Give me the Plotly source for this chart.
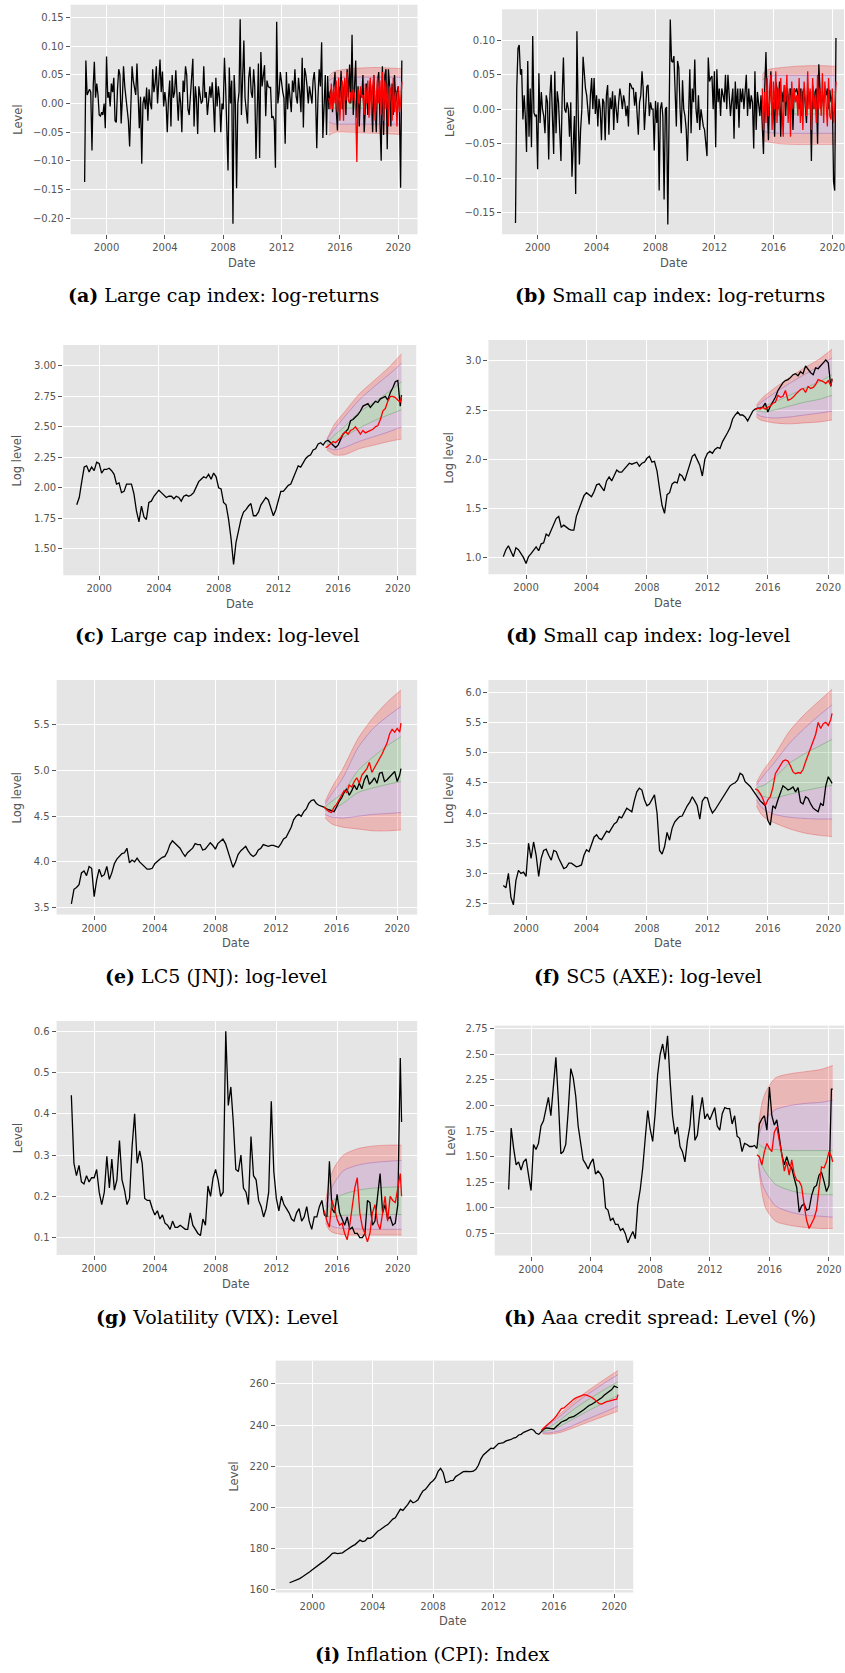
import numpy as np
import pandas as pd
import plotly.graph_objects as go

W, H = 845, 1673

# ------------------------------------------------------------------
# Data
# ------------------------------------------------------------------
# Monthly log-returns, Jul 1998 - Apr 2020 (one row per calendar year)
large_ret_rows = [
    [-0.137, 0.075, 0.015, 0.020, 0.025, 0.020],
    [-0.082, 0.030, 0.073, 0.010, 0.035, 0.015, -0.020, -0.022, -0.015, -0.020, 0.000, -0.043],
    [0.082, 0.010, 0.020, -0.005, 0.035, 0.020, 0.045, -0.030, -0.033, 0.025, 0.060, 0.050],
    [-0.035, 0.010, 0.065, 0.030, 0.010, -0.020, -0.030, -0.075, 0.020, 0.065, 0.040, 0.030],
    [0.015, 0.070, 0.020, -0.043, 0.012, -0.105, 0.000, 0.012, -0.010, 0.028, -0.030, 0.025],
    [0.000, -0.010, 0.060, 0.020, 0.035, 0.065, 0.000, 0.040, 0.077, 0.020, 0.056, -0.005],
    [0.020, 0.000, -0.050, 0.010, 0.040, -0.040, 0.050, 0.010, 0.020, 0.058, 0.010, -0.030],
    [0.020, 0.000, -0.050, 0.040, 0.020, 0.065, 0.050, -0.010, -0.020, 0.015, 0.030, 0.078],
    [-0.040, 0.030, 0.010, -0.053, 0.030, 0.010, 0.000, 0.005, 0.065, 0.010, 0.020, -0.020],
    [0.000, 0.030, 0.010, 0.037, 0.000, -0.050, 0.045, -0.005, 0.030, 0.010, -0.050, 0.000],
    [-0.010, 0.080, 0.030, -0.040, -0.117, 0.063, 0.000, 0.040, -0.210, 0.050, 0.000, -0.148],
    [0.000, 0.020, 0.147, -0.020, 0.040, 0.110, 0.010, -0.010, -0.035, 0.045, 0.064, 0.020],
    [0.010, 0.060, 0.030, -0.097, 0.020, 0.070, -0.095, 0.090, 0.030, 0.045, 0.067, -0.022],
    [0.040, 0.030, 0.028, 0.028, -0.025, -0.022, -0.030, -0.112, 0.143, 0.000, 0.020, 0.055],
    [0.030, 0.020, 0.010, -0.070, 0.055, -0.010, 0.035, 0.010, -0.015, 0.040, 0.020, 0.060],
    [0.012, 0.000, 0.045, 0.020, -0.015, 0.080, -0.042, 0.062, 0.050, 0.030, 0.000, 0.030],
    [0.010, 0.000, 0.040, 0.055, 0.020, -0.078, 0.010, 0.060, 0.030, 0.107, -0.060, 0.000],
    [0.050, -0.055, 0.048, -0.010, 0.020, 0.025, -0.015, 0.030, 0.055, -0.010, -0.047, 0.030],
    [0.010, 0.057, -0.010, 0.020, 0.040, -0.020, 0.060, 0.010, 0.068, 0.000, 0.120, -0.020],
    [0.030, 0.075, -0.025, 0.030, -0.040, 0.020, 0.010, 0.050, -0.050, 0.010, 0.035, -0.020],
    [0.020, 0.040, 0.010, -0.050, 0.050, 0.000, -0.050, 0.040, 0.055, -0.030, -0.100, 0.065],
    [-0.055, 0.050, 0.060, -0.080, 0.060, 0.030, -0.040, 0.035, -0.020, 0.050, 0.000, 0.020],
    [0.030, -0.010, -0.147, 0.075],
]
small_ret_rows = [
    [-0.165, 0.030, 0.088, 0.093, 0.050, 0.058],
    [-0.015, 0.020, -0.010, -0.062, 0.070, -0.040, 0.030, -0.055, 0.106, -0.005, -0.010, -0.008],
    [-0.087, 0.052, -0.020, 0.025, 0.000, -0.010, -0.035, 0.020, 0.010, -0.073, 0.020, 0.050],
    [-0.010, -0.065, 0.055, -0.035, 0.026, 0.010, -0.030, -0.075, 0.020, 0.075, 0.000, -0.005],
    [0.010, 0.000, -0.040, 0.010, -0.098, -0.050, -0.010, -0.123, 0.113, 0.000, -0.080, -0.030],
    [0.000, 0.076, 0.050, 0.030, 0.020, 0.000, -0.022, 0.020, 0.045, 0.000, 0.045, -0.007],
    [0.020, -0.025, 0.015, 0.000, -0.045, 0.015, 0.010, -0.045, 0.020, 0.035, -0.037, 0.017],
    [0.000, 0.026, -0.030, 0.020, 0.000, -0.020, 0.010, 0.030, 0.018, 0.000, 0.020, 0.010],
    [-0.010, 0.005, -0.025, 0.038, 0.035, 0.030, 0.030, 0.005, 0.025, 0.000, -0.037, 0.010],
    [0.020, 0.055, 0.030, -0.030, 0.000, 0.033, 0.035, -0.010, 0.010, 0.000, 0.000, -0.060],
    [0.012, -0.020, 0.010, -0.118, 0.000, 0.010, -0.010, -0.131, 0.000, 0.003, -0.167, 0.000],
    [0.130, 0.070, 0.068, 0.077, 0.020, -0.025, 0.070, 0.060, 0.000, -0.035, 0.042, 0.000],
    [-0.010, -0.030, -0.075, 0.020, 0.058, -0.035, 0.030, 0.010, 0.072, 0.000, -0.020, 0.020],
    [-0.030, 0.000, -0.015, -0.025, -0.030, -0.045, -0.068, 0.075, 0.040, 0.045, 0.048, 0.000],
    [0.055, -0.055, 0.058, 0.010, 0.030, -0.010, 0.030, 0.020, 0.010, 0.050, 0.000, 0.050],
    [0.020, -0.010, 0.010, 0.030, -0.043, 0.040, 0.000, 0.030, -0.027, 0.030, 0.010, 0.030],
    [0.000, 0.020, 0.050, -0.010, 0.030, 0.000, 0.020, 0.010, -0.057, 0.055, -0.030, 0.025],
    [0.010, -0.010, 0.020, -0.020, -0.065, 0.030, 0.083, 0.010, -0.045, 0.020, 0.055, -0.010],
    [0.010, -0.040, 0.040, 0.030, 0.000, 0.040, -0.040, 0.025, 0.010, 0.035, -0.010, 0.030],
    [0.020, 0.000, 0.030, 0.020, -0.030, 0.030, 0.025, 0.030, 0.020, 0.000, 0.030, -0.010],
    [0.025, 0.030, 0.010, -0.020, 0.030, 0.010, 0.025, -0.075, 0.035, 0.000, 0.025, 0.030],
    [-0.050, 0.065, 0.030, 0.000, 0.020, 0.010, 0.028, 0.020, 0.030, 0.000, 0.028, 0.010],
    [0.020, -0.105, -0.118, 0.103],
]

# Simulated monthly return paths, Apr 2015 - Apr 2020
large_ret_path = [
    0.010, -0.010, 0.035, -0.010, 0.030, 0.000, 0.040, -0.015, 0.045, -0.030,
    0.020, 0.040, -0.030, 0.045, 0.005, 0.055, 0.005, 0.000, 0.020, 0.005,
    0.025, 0.015, -0.010, -0.102, 0.025, 0.000, 0.030, 0.010, 0.015, -0.020,
    0.035, 0.000, 0.040, -0.025, 0.045, -0.020, 0.030, 0.050, -0.030, 0.010,
    0.045, 0.000, 0.040, -0.020, 0.055, -0.030, 0.040, -0.010, 0.035, -0.040,
    0.030, 0.020, -0.030, 0.045, -0.015, 0.020, -0.040, 0.030, -0.015, 0.000,
    0.038,
]
small_ret_path = [
    0.030, -0.030, 0.025, -0.020, 0.045, -0.010, 0.010, 0.050, -0.030, 0.040,
    0.000, 0.055, -0.020, 0.030, -0.010, 0.045, 0.000, -0.040, 0.035, 0.010,
    0.050, -0.020, 0.030, -0.040, 0.040, 0.000, 0.030, 0.010, 0.020, -0.010,
    0.045, -0.020, 0.030, -0.030, 0.040, 0.020, -0.010, 0.055, 0.000, 0.030,
    -0.030, 0.045, 0.000, 0.020, -0.020, 0.050, 0.000, 0.030, -0.010, 0.052,
    -0.020, 0.040, 0.000, -0.025, 0.045, -0.010, -0.015, 0.030, -0.020, 0.000,
    0.040,
]

# Bimonthly levels (Jan, Mar, May, Jul, Sep, Nov), Jul 1998 - Mar 2020, plus Apr 2020
large_log_rows = [
    [1.86, 1.92, 2.05],
    [2.17, 2.18, 2.13, 2.17, 2.14, 2.21],
    [2.20, 2.12, 2.15, 2.15, 2.16, 2.14],
    [2.11, 2.03, 2.04, 1.96, 1.97, 2.03],
    [2.03, 2.03, 1.95, 1.81, 1.72, 1.85],
    [1.76, 1.74, 1.88, 1.89, 1.93, 1.96],
    [1.98, 1.96, 1.94, 1.92, 1.93, 1.93],
    [1.91, 1.93, 1.92, 1.89, 1.93, 1.94],
    [1.93, 1.94, 1.96, 2.01, 2.05, 2.07],
    [2.09, 2.08, 2.11, 2.07, 2.12, 2.09],
    [2.00, 1.99, 1.88, 1.86, 1.74, 1.58],
    [1.37, 1.55, 1.66, 1.74, 1.80, 1.82],
    [1.85, 1.87, 1.77, 1.77, 1.80, 1.86],
    [1.89, 1.92, 1.90, 1.84, 1.77, 1.82],
    [1.89, 1.97, 1.97, 2.00, 2.02, 2.03],
    [2.08, 2.14, 2.18, 2.17, 2.21, 2.24],
    [2.26, 2.27, 2.31, 2.32, 2.36, 2.37],
    [2.35, 2.38, 2.39, 2.37, 2.35, 2.33],
    [2.35, 2.40, 2.44, 2.46, 2.48, 2.55],
    [2.56, 2.58, 2.60, 2.63, 2.67, 2.68],
    [2.69, 2.66, 2.69, 2.71, 2.70, 2.73],
    [2.74, 2.75, 2.72, 2.78, 2.82, 2.87],
    [2.88, 2.67, 2.76],
]
small_log_rows = [
    [1.01, 1.08, 1.12],
    [1.06, 1.01, 1.10, 1.08, 1.04, 1.00],
    [0.94, 1.01, 1.04, 1.08, 1.11, 1.07],
    [1.14, 1.15, 1.24, 1.22, 1.28, 1.33],
    [1.40, 1.42, 1.31, 1.33, 1.31, 1.29],
    [1.28, 1.28, 1.42, 1.49, 1.57, 1.63],
    [1.66, 1.64, 1.62, 1.67, 1.74, 1.75],
    [1.72, 1.68, 1.78, 1.82, 1.78, 1.84],
    [1.89, 1.87, 1.87, 1.90, 1.93, 1.96],
    [1.95, 1.96, 1.97, 1.93, 1.96, 1.97],
    [2.01, 2.03, 1.97, 1.98, 1.88, 1.70],
    [1.53, 1.45, 1.64, 1.66, 1.75, 1.77],
    [1.76, 1.85, 1.83, 1.78, 1.87, 1.94],
    [2.03, 2.05, 2.00, 1.94, 1.83, 2.00],
    [2.06, 2.08, 2.06, 2.10, 2.12, 2.11],
    [2.18, 2.22, 2.27, 2.32, 2.41, 2.45],
    [2.48, 2.45, 2.45, 2.43, 2.39, 2.44],
    [2.49, 2.51, 2.52, 2.52, 2.53, 2.57],
    [2.48, 2.54, 2.59, 2.63, 2.70, 2.74],
    [2.78, 2.80, 2.81, 2.83, 2.86, 2.87],
    [2.85, 2.89, 2.87, 2.95, 2.91, 2.88],
    [2.86, 2.93, 2.92, 2.95, 2.97, 3.01],
    [2.98, 2.74, 2.82],
]
lc5_log_rows = [
    [3.54, 3.70, 3.72],
    [3.75, 3.88, 3.90, 3.85, 3.95, 3.93],
    [3.62, 3.80, 3.92, 3.84, 3.86, 3.95],
    [3.81, 3.88, 3.98, 4.03, 4.06, 4.09],
    [4.10, 4.15, 3.99, 4.02, 4.00, 4.04],
    [4.00, 3.97, 3.94, 3.92, 3.92, 3.93],
    [3.98, 4.01, 4.03, 4.05, 4.06, 4.11],
    [4.19, 4.23, 4.20, 4.17, 4.15, 4.10],
    [4.06, 4.10, 4.12, 4.15, 4.20, 4.19],
    [4.19, 4.13, 4.14, 4.18, 4.21, 4.18],
    [4.14, 4.20, 4.22, 4.25, 4.20, 4.12],
    [4.03, 3.94, 4.00, 4.08, 4.12, 4.15],
    [4.17, 4.12, 4.08, 4.06, 4.08, 4.13],
    [4.15, 4.19, 4.18, 4.17, 4.18, 4.18],
    [4.17, 4.16, 4.20, 4.25, 4.27, 4.33],
    [4.38, 4.46, 4.50, 4.52, 4.50, 4.55],
    [4.58, 4.64, 4.67, 4.68, 4.64, 4.62],
    [4.61, 4.60, 4.58, 4.57, 4.56, 4.55],
    [4.60, 4.66, 4.70, 4.76, 4.80, 4.73],
    [4.78, 4.84, 4.79, 4.86, 4.80, 4.90],
    [4.95, 4.85, 4.88, 4.92, 4.86, 4.97],
    [4.98, 4.88, 4.90, 4.93, 4.95, 4.99],
    [4.88, 4.95, 5.02],
]
sc5_log_rows = [
    [2.80, 2.76, 3.00],
    [2.60, 2.48, 2.88, 3.05, 3.00, 3.02],
    [2.95, 3.50, 3.25, 3.52, 3.30, 2.95],
    [3.25, 3.38, 3.40, 3.30, 3.22, 3.38],
    [3.36, 3.25, 3.15, 3.08, 3.10, 3.17],
    [3.17, 3.14, 3.11, 3.12, 3.14, 3.30],
    [3.39, 3.36, 3.50, 3.60, 3.64, 3.58],
    [3.56, 3.62, 3.70, 3.68, 3.75, 3.82],
    [3.85, 3.94, 3.92, 4.00, 4.08, 4.05],
    [4.02, 4.20, 4.35, 4.41, 4.38, 4.22],
    [4.12, 4.15, 4.22, 4.30, 4.00, 3.38],
    [3.32, 3.44, 3.68, 3.55, 3.75, 3.85],
    [3.90, 3.94, 3.95, 4.05, 4.12, 4.18],
    [4.27, 4.20, 4.12, 3.90, 4.20, 4.26],
    [4.25, 4.10, 4.00, 4.05, 4.12, 4.20],
    [4.25, 4.32, 4.38, 4.45, 4.48, 4.50],
    [4.55, 4.66, 4.63, 4.52, 4.48, 4.44],
    [4.38, 4.32, 4.27, 4.20, 4.16, 4.12],
    [3.88, 3.80, 4.12, 4.08, 4.22, 4.33],
    [4.45, 4.42, 4.38, 4.40, 4.43, 4.35],
    [4.42, 4.18, 4.15, 4.27, 4.24, 4.15],
    [4.08, 4.05, 4.02, 4.16, 4.12, 4.45],
    [4.60, 4.53, 4.49],
]
vix_rows = [
    [0.445, 0.280, 0.250],
    [0.275, 0.235, 0.230, 0.250, 0.235, 0.245],
    [0.245, 0.265, 0.210, 0.180, 0.210, 0.297],
    [0.220, 0.290, 0.215, 0.240, 0.335, 0.240],
    [0.215, 0.180, 0.195, 0.320, 0.400, 0.280],
    [0.310, 0.280, 0.195, 0.190, 0.190, 0.170],
    [0.155, 0.165, 0.145, 0.155, 0.135, 0.130],
    [0.120, 0.140, 0.125, 0.125, 0.130, 0.125],
    [0.120, 0.120, 0.160, 0.130, 0.120, 0.110],
    [0.105, 0.145, 0.130, 0.225, 0.200, 0.245],
    [0.265, 0.240, 0.200, 0.210, 0.600, 0.420],
    [0.465, 0.380, 0.265, 0.260, 0.300, 0.220],
    [0.210, 0.180, 0.345, 0.250, 0.240, 0.190],
    [0.175, 0.150, 0.170, 0.210, 0.430, 0.260],
    [0.195, 0.165, 0.200, 0.180, 0.170, 0.160],
    [0.145, 0.140, 0.160, 0.170, 0.140, 0.150],
    [0.175, 0.140, 0.120, 0.150, 0.150, 0.175],
    [0.190, 0.155, 0.150, 0.285, 0.170, 0.160],
    [0.205, 0.160, 0.145, 0.130, 0.150, 0.120],
    [0.125, 0.110, 0.110, 0.100, 0.100, 0.110],
    [0.190, 0.185, 0.130, 0.140, 0.200, 0.255],
    [0.160, 0.180, 0.145, 0.150, 0.130, 0.135],
    [0.180, 0.535, 0.380],
]
aaa_rows = [
    [1.18, 1.78, 1.58],
    [1.42, 1.45, 1.37, 1.45, 1.48, 1.32],
    [1.17, 1.62, 1.57, 1.63, 1.80, 1.85],
    [1.98, 2.08, 1.90, 2.20, 2.47, 2.05],
    [1.53, 1.55, 1.62, 1.95, 2.36, 2.27],
    [2.09, 1.80, 1.62, 1.47, 1.43, 1.38],
    [1.44, 1.48, 1.33, 1.36, 1.33, 1.28],
    [1.00, 0.98, 0.88, 0.90, 0.84, 0.84],
    [0.78, 0.80, 0.75, 0.66, 0.72, 0.77],
    [0.70, 1.03, 1.18, 1.39, 1.68, 1.95],
    [1.77, 1.65, 1.92, 2.30, 2.50, 2.60],
    [2.45, 2.68, 2.25, 1.90, 1.72, 1.79],
    [1.60, 1.55, 1.45, 1.66, 1.80, 2.10],
    [1.66, 1.71, 1.93, 2.08, 1.87, 1.92],
    [1.86, 1.93, 1.98, 1.80, 1.76, 1.92],
    [1.98, 1.97, 1.97, 1.82, 1.90, 1.70],
    [1.68, 1.55, 1.63, 1.62, 1.60, 1.60],
    [1.61, 1.58, 1.82, 1.87, 1.90, 1.76],
    [2.18, 1.90, 1.81, 1.86, 1.68, 1.52],
    [1.42, 1.50, 1.42, 1.39, 1.29, 1.20],
    [0.96, 1.02, 1.04, 0.98, 0.99, 1.12],
    [1.20, 1.22, 1.32, 1.35, 1.26, 1.16],
    [1.22, 2.16, 2.16],
]
cpi_rows = [
    [163.5, 164.0, 164.3],
    [164.8, 165.5, 166.3, 167.0, 168.0, 168.8],
    [169.8, 170.8, 171.5, 172.6, 173.5, 174.3],
    [175.2, 176.5, 177.8, 178.0, 177.6, 177.7],
    [178.0, 178.9, 179.8, 180.6, 181.4, 182.0],
    [183.0, 184.2, 183.5, 183.8, 185.2, 185.0],
    [185.8, 187.0, 188.5, 189.2, 190.3, 191.0],
    [191.7, 193.0, 194.4, 195.0, 197.5, 199.2],
    [198.6, 199.8, 201.5, 203.5, 202.3, 202.8],
    [203.7, 206.0, 208.0, 208.8, 210.5, 212.0],
    [213.0, 214.5, 217.5, 219.0, 217.0, 212.1],
    [212.4, 213.0, 213.2, 215.0, 215.8, 216.5],
    [217.4, 217.5, 217.3, 217.4, 217.6, 218.5],
    [220.5, 223.5, 225.5, 226.5, 227.5, 228.8],
    [228.6, 229.8, 231.0, 231.2, 231.5, 232.3],
    [232.5, 233.0, 233.7, 234.0, 235.2, 235.5],
    [236.5, 237.0, 237.8, 238.0, 237.5, 236.0],
    [235.5, 237.0, 238.0, 238.6, 238.4, 238.2],
    [238.1, 239.3, 240.5, 241.5, 242.0, 242.5],
    [243.5, 243.8, 244.2, 245.0, 245.8, 246.5],
    [247.6, 248.5, 249.5, 250.0, 250.8, 251.5],
    [252.4, 253.2, 254.5, 255.5, 256.3, 257.2],
    [258.9, 258.6, 258.1],
]

# Simulated bimonthly paths, Mar 2015 - Mar 2020, plus Apr 2020
large_log_path = [[2.33, 2.34, 2.36, 2.38, 2.37],
                  [2.39, 2.41, 2.44, 2.46, 2.44, 2.47],
                  [2.48, 2.50, 2.47, 2.44, 2.47, 2.45],
                  [2.46, 2.47, 2.48, 2.50, 2.51, 2.56],
                  [2.63, 2.65, 2.71, 2.75, 2.75, 2.74],
                  [2.72, 2.70, 2.75]]
small_log_path = [[2.50, 2.52, 2.51, 2.53, 2.51],
                  [2.53, 2.54, 2.57, 2.58, 2.65, 2.63],
                  [2.64, 2.70, 2.60, 2.61, 2.63, 2.66],
                  [2.69, 2.71, 2.72, 2.68, 2.74, 2.72],
                  [2.73, 2.76, 2.81, 2.80, 2.79, 2.77],
                  [2.80, 2.75, 2.81]]
lc5_log_path = [[4.60, 4.58, 4.55, 4.54, 4.60],
                [4.63, 4.68, 4.72, 4.78, 4.76, 4.84],
                [4.82, 4.88, 4.92, 4.86, 4.95, 4.98],
                [5.02, 5.09, 4.98, 5.03, 5.08, 5.12],
                [5.18, 5.24, 5.30, 5.40, 5.45, 5.42],
                [5.46, 5.42, 5.52]]
sc5_log_path = [[4.40, 4.38, 4.32, 4.24, 4.12],
                [4.22, 4.27, 4.42, 4.65, 4.72, 4.80],
                [4.86, 4.88, 4.86, 4.78, 4.68, 4.65],
                [4.67, 4.66, 4.72, 4.85, 4.97, 5.08],
                [5.18, 5.30, 5.50, 5.40, 5.48, 5.50],
                [5.45, 5.55, 5.65]]
vix_path = [[0.165, 0.140, 0.125, 0.190, 0.170],
            [0.145, 0.130, 0.135, 0.110, 0.095, 0.130],
            [0.170, 0.220, 0.245, 0.160, 0.125, 0.110],
            [0.090, 0.110, 0.160, 0.180, 0.135, 0.120],
            [0.160, 0.200, 0.140, 0.200, 0.190, 0.185],
            [0.220, 0.255, 0.200]]
aaa_path = [[1.52, 1.50, 1.42, 1.55, 1.63],
            [1.58, 1.55, 1.74, 1.79, 1.66, 1.52],
            [1.36, 1.45, 1.32, 1.47, 1.33, 1.27],
            [1.26, 1.21, 1.03, 0.88, 0.80, 0.85],
            [0.90, 0.98, 1.22, 1.40, 1.39, 1.45],
            [1.55, 1.50, 1.45]]
cpi_path = [[237.4, 238.5, 239.6, 240.8, 241.8],
            [243.0, 244.5, 246.5, 248.0, 248.3, 249.5],
            [250.5, 251.8, 252.6, 253.3, 253.8, 254.3],
            [254.8, 254.5, 254.1, 253.5, 252.6, 251.5],
            [250.4, 250.2, 250.8, 251.4, 251.6, 251.8],
            [252.3, 252.6, 254.8]]

# Forecast quantile bands at these dates:
# rows = outer low, middle low, inner low, inner high, middle high, outer high
band_dates = ["2015-04-01", "2015-07-01", "2015-10-01", "2016-06-01",
              "2017-06-01", "2018-06-01", "2019-06-01", "2020-04-01"]
large_ret_bands = [
    [-0.056, -0.052, -0.050, -0.050, -0.051, -0.052, -0.053, -0.054],
    [-0.032, -0.035, -0.036, -0.036, -0.036, -0.036, -0.036, -0.036],
    [-0.006, -0.008, -0.008, -0.008, -0.008, -0.008, -0.008, -0.008],
    [0.018, 0.020, 0.020, 0.021, 0.021, 0.021, 0.021, 0.021],
    [0.040, 0.044, 0.045, 0.046, 0.046, 0.046, 0.046, 0.046],
    [0.048, 0.054, 0.057, 0.060, 0.062, 0.063, 0.062, 0.061],
]
small_ret_bands = [
    [-0.045, -0.047, -0.048, -0.050, -0.051, -0.051, -0.051, -0.051],
    [-0.030, -0.033, -0.034, -0.035, -0.035, -0.035, -0.035, -0.035],
    [-0.006, -0.007, -0.007, -0.007, -0.007, -0.007, -0.007, -0.007],
    [0.024, 0.025, 0.025, 0.025, 0.025, 0.025, 0.025, 0.025],
    [0.042, 0.046, 0.048, 0.049, 0.049, 0.049, 0.049, 0.049],
    [0.050, 0.056, 0.058, 0.060, 0.062, 0.063, 0.063, 0.062],
]
large_log_bands = [
    [2.31, 2.29, 2.27, 2.27, 2.32, 2.35, 2.38, 2.40],
    [2.33, 2.32, 2.31, 2.33, 2.38, 2.42, 2.46, 2.50],
    [2.35, 2.36, 2.37, 2.42, 2.49, 2.55, 2.60, 2.64],
    [2.37, 2.40, 2.43, 2.50, 2.62, 2.70, 2.79, 2.87],
    [2.39, 2.44, 2.48, 2.58, 2.72, 2.83, 2.93, 3.02],
    [2.40, 2.46, 2.52, 2.62, 2.77, 2.88, 2.99, 3.10],
]
small_log_bands = [
    [2.43, 2.40, 2.39, 2.37, 2.36, 2.37, 2.38, 2.40],
    [2.46, 2.44, 2.43, 2.42, 2.43, 2.45, 2.47, 2.49],
    [2.49, 2.49, 2.48, 2.50, 2.54, 2.58, 2.61, 2.65],
    [2.51, 2.53, 2.54, 2.58, 2.65, 2.72, 2.79, 2.86],
    [2.53, 2.57, 2.60, 2.67, 2.77, 2.86, 2.95, 3.03],
    [2.55, 2.60, 2.64, 2.72, 2.83, 2.93, 3.02, 3.12],
]
lc5_log_bands = [
    [4.48, 4.44, 4.41, 4.38, 4.36, 4.34, 4.34, 4.35],
    [4.52, 4.50, 4.49, 4.48, 4.50, 4.52, 4.53, 4.54],
    [4.56, 4.57, 4.58, 4.64, 4.76, 4.81, 4.85, 4.88],
    [4.60, 4.64, 4.67, 4.76, 5.00, 5.15, 5.28, 5.37],
    [4.63, 4.70, 4.76, 4.92, 5.25, 5.46, 5.60, 5.70],
    [4.66, 4.75, 4.83, 5.02, 5.35, 5.58, 5.76, 5.88],
]
sc5_log_bands = [
    [4.12, 4.00, 3.93, 3.84, 3.74, 3.67, 3.63, 3.61],
    [4.22, 4.12, 4.06, 3.98, 3.93, 3.91, 3.90, 3.90],
    [4.35, 4.30, 4.27, 4.25, 4.31, 4.37, 4.42, 4.46],
    [4.42, 4.44, 4.46, 4.58, 4.82, 4.98, 5.11, 5.22],
    [4.46, 4.55, 4.63, 4.83, 5.15, 5.40, 5.62, 5.79],
    [4.50, 4.62, 4.72, 4.95, 5.35, 5.63, 5.86, 6.05],
]
vix_bands = [
    [0.135, 0.118, 0.112, 0.107, 0.106, 0.106, 0.106, 0.106],
    [0.145, 0.132, 0.126, 0.122, 0.121, 0.120, 0.120, 0.120],
    [0.155, 0.150, 0.151, 0.154, 0.155, 0.156, 0.156, 0.156],
    [0.165, 0.178, 0.190, 0.205, 0.215, 0.220, 0.222, 0.223],
    [0.175, 0.205, 0.228, 0.262, 0.276, 0.282, 0.285, 0.287],
    [0.190, 0.235, 0.265, 0.300, 0.316, 0.322, 0.324, 0.324],
]
aaa_bands = [
    [1.43, 1.15, 1.00, 0.87, 0.83, 0.81, 0.80, 0.80],
    [1.47, 1.25, 1.16, 1.02, 0.96, 0.93, 0.92, 0.91],
    [1.52, 1.42, 1.35, 1.23, 1.17, 1.14, 1.13, 1.13],
    [1.63, 1.60, 1.58, 1.57, 1.56, 1.56, 1.56, 1.56],
    [1.68, 1.80, 1.87, 1.96, 2.00, 2.02, 2.03, 2.05],
    [1.78, 2.02, 2.13, 2.27, 2.31, 2.33, 2.35, 2.39],
]
cpi_bands = [
    [235.8, 235.6, 235.6, 236.4, 239.0, 241.8, 244.5, 246.8],
    [236.2, 236.2, 236.3, 237.3, 240.3, 243.5, 246.5, 249.2],
    [236.8, 237.2, 237.6, 239.5, 243.5, 247.5, 251.2, 254.5],
    [237.5, 238.4, 239.3, 242.5, 248.2, 253.0, 257.5, 261.0],
    [238.0, 239.3, 240.6, 244.3, 250.5, 255.8, 260.7, 264.5],
    [238.5, 240.0, 241.5, 245.5, 252.0, 257.5, 262.5, 266.5],
]

captions = [
    "(a)|Large cap index: log-returns",
    "(b)|Small cap index: log-returns",
    "(c)|Large cap index: log-level",
    "(d)|Small cap index: log-level",
    "(e)|LC5 (JNJ): log-level",
    "(f)|SC5 (AXE): log-level",
    "(g)|Volatility (VIX): Level",
    "(h)|Aaa credit spread: Level (%)",
    "(i)|Inflation (CPI): Index",
]
y_titles = ["Level", "Level", "Log level", "Log level", "Log level", "Log level",
            "Level", "Level", "Level"]


# ------------------------------------------------------------------
# Helpers
# ------------------------------------------------------------------
def join_rows(name, rows, sizes):
    assert len(rows) == len(sizes), f"{name}: {len(rows)} rows"
    for i, (r, n) in enumerate(zip(rows, sizes)):
        assert len(r) == n, f"{name} row {i}: {len(r)} != {n}"
    return [v for r in rows for v in r]


MONTH_SIZES = [6] + [12] * 21 + [4]
BIM_SIZES = [3] + [6] * 21 + [3]
PATH_SIZES = [5] + [6] * 4 + [3]

month_dates = pd.date_range("1998-07-01", periods=262, freq="MS")
path_month_dates = pd.date_range("2015-04-01", periods=61, freq="MS")
bim_dates = list(pd.date_range("1998-07-01", "2020-03-01", freq="2MS")) + [pd.Timestamp("2020-04-01")]
path_bim_dates = list(pd.date_range("2015-03-01", "2020-03-01", freq="2MS")) + [pd.Timestamp("2020-04-01")]
assert len(large_ret_path) == 61 and len(small_ret_path) == 61


def dec_year(y):
    yr = int(np.floor(y))
    a = pd.Timestamp(year=yr, month=1, day=1)
    b = pd.Timestamp(year=yr + 1, month=1, day=1)
    return (a + (b - a) * (y - yr)).strftime("%Y-%m-%d %H:%M:%S")


series = [
    (month_dates, join_rows("large_ret", large_ret_rows, MONTH_SIZES),
     path_month_dates, large_ret_path, large_ret_bands),
    (month_dates, join_rows("small_ret", small_ret_rows, MONTH_SIZES),
     path_month_dates, small_ret_path, small_ret_bands),
    (bim_dates, join_rows("large_log", large_log_rows, BIM_SIZES),
     path_bim_dates, join_rows("large_log_path", large_log_path, PATH_SIZES), large_log_bands),
    (bim_dates, join_rows("small_log", small_log_rows, BIM_SIZES),
     path_bim_dates, join_rows("small_log_path", small_log_path, PATH_SIZES), small_log_bands),
    (bim_dates, join_rows("lc5", lc5_log_rows, BIM_SIZES),
     path_bim_dates, join_rows("lc5_path", lc5_log_path, PATH_SIZES), lc5_log_bands),
    (bim_dates, join_rows("sc5", sc5_log_rows, BIM_SIZES),
     path_bim_dates, join_rows("sc5_path", sc5_log_path, PATH_SIZES), sc5_log_bands),
    (bim_dates, join_rows("vix", vix_rows, BIM_SIZES),
     path_bim_dates, join_rows("vix_path", vix_path, PATH_SIZES), vix_bands),
    (bim_dates, join_rows("aaa", aaa_rows, BIM_SIZES),
     path_bim_dates, join_rows("aaa_path", aaa_path, PATH_SIZES), aaa_bands),
    (bim_dates, join_rows("cpi", cpi_rows, BIM_SIZES),
     path_bim_dates, join_rows("cpi_path", cpi_path, PATH_SIZES), cpi_bands),
]

# ------------------------------------------------------------------
# Panel geometry (pixels): plot box, pixel of the 2000/2020 ticks,
# two reference y ticks (value, pixel), tick step and format,
# plus positions of the y title, "Date" label and caption.
# ------------------------------------------------------------------
geometry = [
    dict(box=(70.7, 2.7, 418, 233), t00=106.7, t20=398.7, yref=(0.15, 15.7, -0.20, 216.7),
         dtick=0.05, fmt=".2f", ytx=18.3, date=(242.7, 261.7), cap=(224, 294)),
    dict(box=(502.7, 7.3, 852, 233), t00=538.3, t20=833.3, yref=(0.10, 38.3, -0.15, 211.3),
         dtick=0.05, fmt=".2f", ytx=450.7, date=(675, 261.7), cap=(671, 294)),
    dict(box=(63.3, 344, 416.7, 575), t00=99.3, t20=398.3, yref=(3.0, 365, 1.5, 548.3),
         dtick=0.25, fmt=".2f", ytx=17.3, date=(240, 604), cap=(217.5, 635)),
    dict(box=(489, 339, 860, 574), t00=526.7, t20=829.3, yref=(3.0, 360, 1.0, 557.3),
         dtick=0.5, fmt=".1f", ytx=450, date=(668.3, 603.3), cap=(649, 635)),
    dict(box=(56.7, 680, 417.7, 915.3), t00=94.3, t20=397.7, yref=(5.5, 725, 3.5, 908.3),
         dtick=0.5, fmt=".1f", ytx=17.3, date=(236.7, 944.3), cap=(216.7, 976.7)),
    dict(box=(489, 680, 860, 915.7), t00=526.7, t20=829.3, yref=(6.0, 692.3, 2.5, 904.3),
         dtick=0.5, fmt=".1f", ytx=450, date=(668.3, 944.3), cap=(649, 976.7)),
    dict(box=(56.7, 1022, 417.7, 1256.7), t00=94.3, t20=398.3, yref=(0.6, 1032.3, 0.1, 1239.3),
         dtick=0.1, fmt=".1f", ytx=18.3, date=(236.7, 1285.7), cap=(217, 1318.7)),
    dict(box=(495.3, 1026.7, 860, 1257.3), t00=531.7, t20=830, yref=(2.75, 1029.7, 0.75, 1235.3),
         dtick=0.25, fmt=".2f", ytx=450.7, date=(671.7, 1285.7), cap=(661, 1318.7)),
    dict(box=(276, 1362.7, 634, 1595.3), t00=312.7, t20=615, yref=(260, 1386, 160, 1592.7),
         dtick=20, fmt="d", ytx=234.3, date=(454, 1624.3), cap=(433, 1657)),
]

GRAY = "#555555"
TICK_FONT = dict(family="DejaVu Sans", size=10, color=GRAY)
LABEL_FONT = dict(family="DejaVu Sans", size=11.5, color=GRAY)
CAP_FONT = dict(family="DejaVu Serif", size=19, color="black")

FILL_RED = "rgba(255,0,0,0.20)"
FILL_PUR = "rgba(140,20,150,0.17)"
FILL_GRN = "rgba(40,140,40,0.20)"
EDGE_RED = "rgba(225,60,60,0.35)"
EDGE_PUR = "rgba(140,60,170,0.35)"
EDGE_GRN = "rgba(60,140,60,0.35)"
band_style = [  # (edge colour, fill colour to the previous boundary)
    (EDGE_RED, None), (EDGE_PUR, FILL_RED), (EDGE_GRN, FILL_PUR),
    (EDGE_GRN, FILL_GRN), (EDGE_PUR, FILL_PUR), (EDGE_RED, FILL_RED),
]

tick_years = list(range(2000, 2021, 4))

fig = go.Figure()
annotations = []

for k, ((bx, by, px, py, bands), g, cap, ytitle) in enumerate(
        zip(series, geometry, captions, y_titles), start=1):
    sfx = "" if k == 1 else str(k)
    xa, ya = "x" + sfx, "y" + sfx

    # forecast bands
    for (edge, fill), q in zip(band_style, bands):
        fig.add_trace(go.Scatter(
            x=band_dates, y=q, mode="lines", xaxis=xa, yaxis=ya,
            line=dict(color=edge, width=1, shape="spline", smoothing=0.7),
            fill="tonexty" if fill else None, fillcolor=fill,
            hoverinfo="skip", showlegend=False))
    # observed series
    fig.add_trace(go.Scatter(x=bx, y=by, mode="lines", xaxis=xa, yaxis=ya,
                             line=dict(color="black", width=1.3),
                             hoverinfo="skip", showlegend=False))
    # simulated path
    fig.add_trace(go.Scatter(x=px, y=py, mode="lines", xaxis=xa, yaxis=ya,
                             line=dict(color="red", width=1.3),
                             hoverinfo="skip", showlegend=False))

    x0, y0, x1, y1 = g["box"]
    x1c = min(x1, W)
    ppy = (g["t20"] - g["t00"]) / 20.0
    left = 2000 + (x0 - g["t00"]) / ppy
    right = 2000 + (x1c - g["t00"]) / ppy
    va, pa, vb, pb = g["yref"]
    ppu = (pb - pa) / (va - vb)
    top = va + (pa - y0) / ppu
    bot = vb - (y1 - pb) / ppu

    common = dict(showgrid=True, gridcolor="white", gridwidth=1, zeroline=False,
                  showline=False, ticks="outside", ticklen=4, tickwidth=1,
                  tickcolor=GRAY, tickfont=TICK_FONT, ticklabeloverflow="allow")
    fig.layout["xaxis" + sfx] = dict(
        domain=[x0 / W, x1c / W], anchor=ya, type="date",
        range=[dec_year(left), dec_year(right)],
        tickvals=[f"{y}-01-01" for y in tick_years],
        ticktext=[str(y) for y in tick_years], **common)
    fig.layout["yaxis" + sfx] = dict(
        domain=[1 - y1 / H, 1 - y0 / H], anchor=xa, range=[bot, top],
        tick0=0, dtick=g["dtick"], tickformat=g["fmt"], **common)

    # axis titles
    annotations.append(dict(x=g["ytx"] / W, y=1 - (y0 + y1) / 2 / H, xref="paper", yref="paper",
                            text=ytitle, textangle=-90, showarrow=False, font=LABEL_FONT,
                            xanchor="center", yanchor="middle"))
    annotations.append(dict(x=g["date"][0] / W, y=1 - g["date"][1] / H, xref="paper", yref="paper",
                            text="Date", showarrow=False, font=LABEL_FONT,
                            xanchor="center", yanchor="middle"))
    tag, name = cap.split("|")
    annotations.append(dict(x=g["cap"][0] / W, y=1 - g["cap"][1] / H, xref="paper", yref="paper",
                            text=f"<b>{tag}</b> {name}", showarrow=False, font=CAP_FONT,
                            xanchor="center", yanchor="middle"))

fig.update_layout(
    width=W, height=H, margin=dict(l=0, r=0, t=0, b=0),
    paper_bgcolor="white", plot_bgcolor="#E5E5E5",
    showlegend=False, hovermode=False, annotations=annotations,
)

fig.write_html("out.html")
